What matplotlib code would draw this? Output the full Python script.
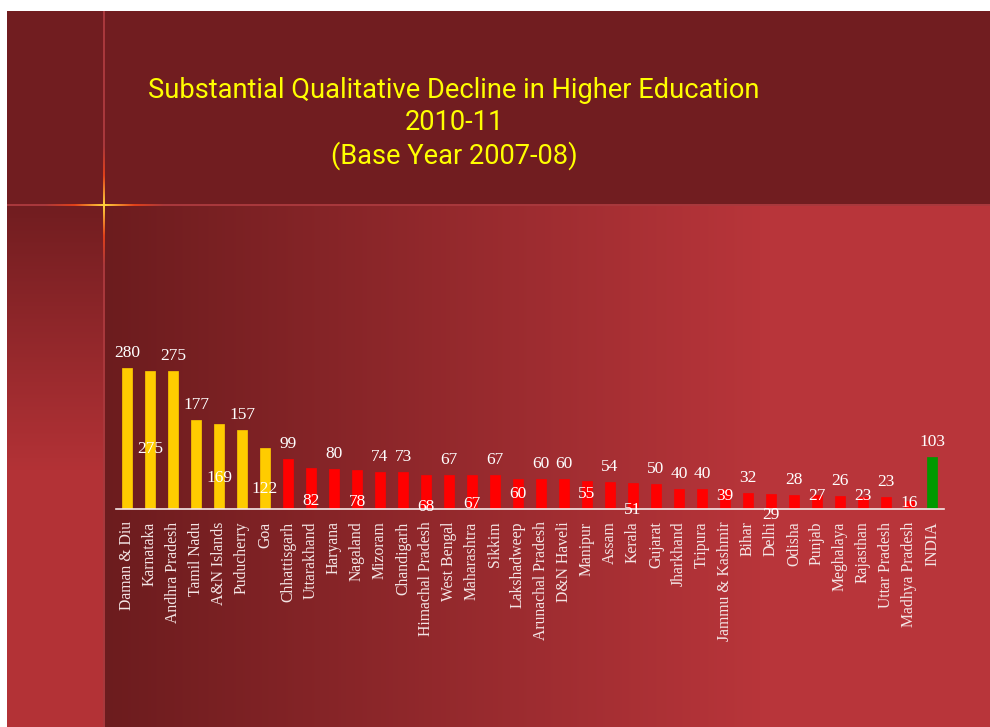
import numpy as np
import matplotlib
matplotlib.use("Agg")
import matplotlib.pyplot as plt
from matplotlib.colors import to_rgb

states = ["Daman & Diu", "Karnataka", "Andhra Pradesh", "Tamil Nadu", "A&N Islands",
          "Puducherry", "Goa", "Chhattisgarh", "Uttarakhand", "Haryana", "Nagaland",
          "Mizoram", "Chandigarh", "Himachal Pradesh", "West Bengal", "Maharashtra",
          "Sikkim", "Lakshadweep", "Arunachal Pradesh", "D&N Haveli", "Manipur", "Assam",
          "Kerala", "Gujarat", "Jharkhand", "Tripura", "Jammu & Kashmir", "Bihar", "Delhi",
          "Odisha", "Punjab", "Meghalaya", "Rajasthan", "Uttar Pradesh", "Madhya Pradesh",
          "INDIA"]
values = [280, 275, 275, 177, 169, 157, 122, 99, 82, 80, 78, 74, 73, 68, 67, 67, 67, 60,
          60, 60, 55, 54, 51, 50, 40, 40, 39, 32, 29, 28, 27, 26, 23, 23, 16, 103]
groups = ["high"] * 7 + ["low"] * 28 + ["india"]

# value labels that sit down inside/below the bar top instead of above it
dropped_label_y = {1: 119, 4: 62, 6: 40, 8: 16, 10: 14, 13: 4, 15: 10, 17: 30,
                   20: 30, 22: -2, 26: 26, 28: -12, 30: 26, 32: 26, 34: 12}

group_colors = {"high": "#ffcc00", "low": "#ff0000", "india": "#009900"}

W, H = 990, 727
fig = plt.figure(figsize=(W / 100, H / 100), dpi=100)
fig.patch.set_facecolor("white")

# slide background
bg = np.ones((H, W, 3))
header = np.array(to_rgb("#711d20"))
dark = np.array(to_rgb("#6c1c1e"))
bright = np.array(to_rgb("#b8353a"))
left, top, split = 7, 11, 205
bg[top:split, left:] = header
xs = np.clip((np.arange(W) - 104) / (760 - 104), 0, 1)
main = dark[None, :] + (bright - dark)[None, :] * xs[:, None]
bg[split:, 104:] = main[104:][None, :, :]
ys = np.clip((np.arange(H) - split) / (470 - split), 0, 1)
strip = header[None, :] + (np.array(to_rgb("#b33236")) - header)[None, :] * ys[:, None]
bg[split:, left:104] = strip[split:][:, None, :]
# thin guide lines
line_col = np.array(to_rgb("#a8383c"))
bg[split - 1:split + 1, left:] = line_col
bg[top:, 103:105] = line_col
# glow where the guides cross
glow = np.array(to_rgb("#ffd23c"))
orange = np.array(to_rgb("#e0401a"))
for d in range(-60, 61):
    t = 1 - abs(d) / 60
    c = line_col + (orange - line_col) * min(1, t * 2) + (glow - orange) * max(0, t * 2 - 1)
    c = np.clip(c, 0, 1)
    if 0 <= 104 + d < W:
        bg[split - 1:split + 1, 104 + d] = c
    if 0 <= split + d < H:
        bg[split + d, 103:105] = c

bax = fig.add_axes([0, 0, 1, 1])
bax.imshow(bg, extent=(0, W, H, 0), aspect="auto", interpolation="bilinear")
bax.set_xlim(0, W)
bax.set_ylim(H, 0)
bax.axis("off")

title_font = ["Roboto", "DejaVu Sans"]
for txt, y in [("Substantial Qualitative Decline in Higher Education", 90),
               ("2010-11", 123),
               ("(Base Year 2007-08)", 156)]:
    bax.text(454, y, txt, color="#ffff00", fontsize=19.6, family=title_font,
             ha="center", va="center")

# chart
base_y = 509
ymax = 300
px_per_unit = 0.503
ax = fig.add_axes([115.5 / W, (H - base_y) / H, 828 / W, ymax * px_per_unit / H])
ax.patch.set_alpha(0)
x = np.arange(len(states))
ax.bar(x, values, width=0.42, color=[group_colors[g] for g in groups],
       edgecolor=[group_colors[g] for g in groups], linewidth=0.5, zorder=2)
ax.set_xlim(-0.5, len(states) - 0.5)
ax.set_ylim(0, ymax)
for s in ["top", "right", "left"]:
    ax.spines[s].set_visible(False)
ax.spines["bottom"].set_color("#f4e8e8")
ax.spines["bottom"].set_linewidth(1.2)
ax.set_yticks([])
ax.set_xticks(x)
ax.set_xticklabels(states, rotation=90, fontsize=11.3, family="Liberation Serif",
                   color="#f4e6e6")
ax.tick_params(axis="x", length=0, pad=9)

for i, v in enumerate(values):
    ly = dropped_label_y.get(i, v + 30)
    ax.text(i, ly, str(v), ha="center", va="center", fontsize=12.5,
            family="Liberation Serif", color="white", clip_on=False, zorder=3)

fig.savefig("out.png", dpi=100, facecolor=fig.get_facecolor())
